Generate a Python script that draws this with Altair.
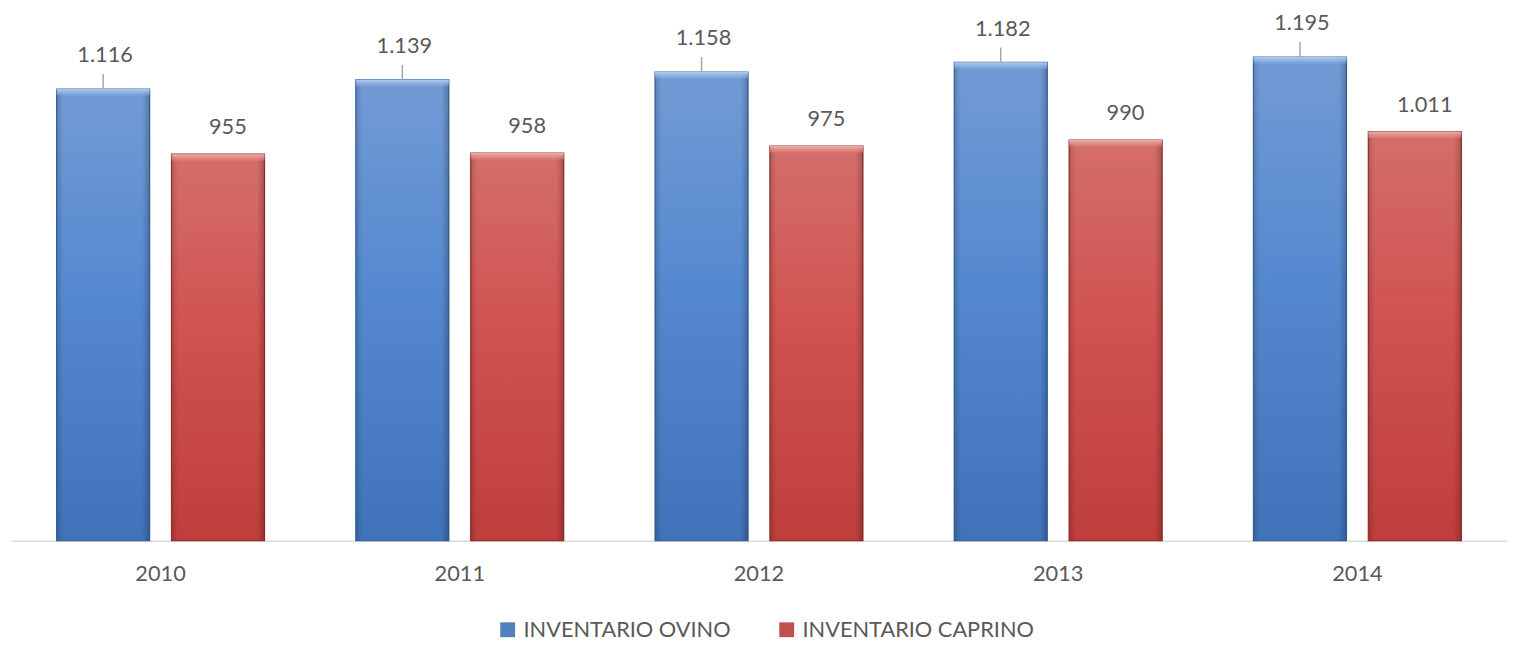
import altair as alt
import pandas as pd

years = ["2010", "2011", "2012", "2013", "2014"]
ovino = [1116, 1139, 1158, 1182, 1195]
caprino = [955, 958, 975, 990, 1011]
series = ["INVENTARIO OVINO", "INVENTARIO CAPRINO"]

rows = []
for i, yr in enumerate(years):
    rows.append({"year": yr, "series": series[0], "value": ovino[i]})
    rows.append({"year": yr, "series": series[1], "value": caprino[i]})
df = pd.DataFrame(rows)
df["label"] = df["value"].map(lambda v: f"{v:,}".replace(",", "."))

FONT = "Lato"
TEXT = "#595959"
FS = 22

x = alt.X(
    "year:N",
    sort=years,
    scale=alt.Scale(paddingInner=0.305, paddingOuter=0.1525, range=[0, 1512]),
    axis=alt.Axis(
        title=None, labelAngle=0, labelFontSize=FS, labelColor=TEXT, labelFont=FONT,
        ticks=False, domainColor="#d9d9d9", domainWidth=1.5, labelPadding=23, grid=False,
    ),
)
xo = alt.XOffset("series:N", sort=series,
                 scale=alt.Scale(domain=series, paddingInner=0.19, paddingOuter=0))
y = alt.Y("value:Q", scale=alt.Scale(domain=[0, 1308], nice=False, zero=True), axis=None)

base = alt.Chart(df).encode(x=x, xOffset=xo, y=y)

legend_bars = base.mark_bar().encode(
    color=alt.Color(
        "series:N",
        sort=series,
        scale=alt.Scale(domain=series, range=["#4f81bd", "#c0504d"]),
        legend=alt.Legend(
            title=None, orient="none", legendX=491, legendY=614, direction="horizontal",
            symbolType="square", symbolSize=225, symbolStrokeWidth=0,
            labelFontSize=FS, labelFont=FONT, labelColor=TEXT, labelOffset=5,
            labelLimit=0, columnPadding=45,
        ),
    )
)


def vgrad(stops):
    return alt.Gradient(
        gradient="linear",
        stops=[alt.GradientStop(color=c, offset=o) for c, o in stops],
        x1=0, x2=0, y1=0, y2=1,
    )


def hgrad(stops):
    return alt.Gradient(
        gradient="linear",
        stops=[alt.GradientStop(color=c, offset=o) for c, o in stops],
        x1=0, x2=1, y1=0, y2=0,
    )


is_blue = alt.datum.series == series[0]
is_red = alt.datum.series == series[1]

blue_bars = base.mark_bar(
    fill=vgrad([("#729bd5", 0), ("#5589cf", 0.45), ("#4072b9", 1)]),
    stroke="#3a679f", strokeWidth=1.2,
).transform_filter(is_blue)
red_bars = base.mark_bar(
    fill=vgrad([("#d46e6a", 0), ("#d05351", 0.45), ("#be3e3c", 1)]),
    stroke="#9a3330", strokeWidth=1.2,
).transform_filter(is_red)

edges = base.mark_bar(
    fill=hgrad([("rgba(0,0,0,0.16)", 0), ("rgba(0,0,0,0)", 0.07),
                ("rgba(0,0,0,0)", 0.92), ("rgba(0,0,0,0.22)", 1)]),
)

blue_hi = base.mark_bar(
    fill=vgrad([("#b3cdf0", 0), ("rgba(140,175,225,0.35)", 1)]),
).encode(y2="hi:Q").transform_filter(is_blue).transform_calculate(hi="datum.value - 16")
red_hi = base.mark_bar(
    fill=vgrad([("#f0b1ae", 0), ("rgba(225,140,137,0.35)", 1)]),
).encode(y2="hi:Q").transform_filter(is_red).transform_calculate(hi="datum.value - 16")

leaders = base.mark_rule(color="#a6a6a6", strokeWidth=1.5).encode(
    y2="top:Q"
).transform_filter(is_blue).transform_calculate(top="datum.value + 37")

blue_text = base.mark_text(dy=-34, dx=2, fontSize=FS, font=FONT, color=TEXT).encode(
    text="label:N"
).transform_filter(is_blue)
red_text = base.mark_text(dy=-27, dx=10, fontSize=FS, font=FONT, color=TEXT).encode(
    text="label:N"
).transform_filter(is_red)

chart = alt.layer(
    legend_bars, blue_bars, red_bars, edges, blue_hi, red_hi, leaders, blue_text, red_text
).properties(
    width=1504, height=535,
    padding={"left": 3, "top": 0, "right": 0, "bottom": 0},
).configure_view(stroke=None)

chart.save("out.html", embed_options={"renderer": "svg", "actions": False})
